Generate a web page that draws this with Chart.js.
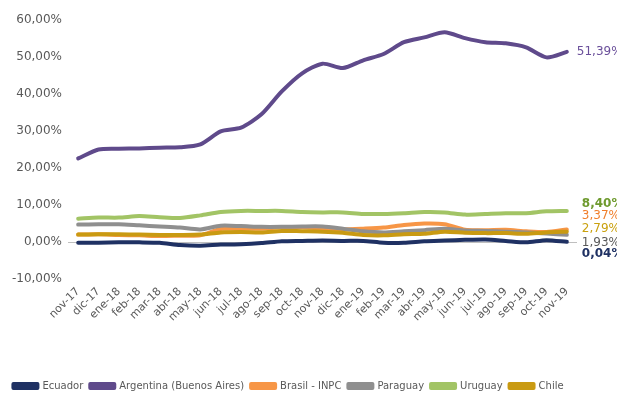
<!DOCTYPE html>
<html>
<head>
<meta charset="utf-8">
<script src="https://cdn.jsdelivr.net/npm/chart.js@4/dist/chart.umd.min.js"></script>
<style>
  html, body { margin: 0; padding: 0; background: #fff; }
  #wrap { width: 617px; height: 401px; }
</style>
</head>
<body>
<div id="wrap"><canvas id="myChart"></canvas></div>
<script>
var months = ['nov-17', 'dic-17', 'ene-18', 'feb-18', 'mar-18', 'abr-18', 'may-18', 'jun-18', 'jul-18', 'ago-18', 'sep-18', 'oct-18',
    'nov-18', 'dic-18', 'ene-19', 'feb-19', 'mar-19', 'abr-19', 'may-19', 'jun-19', 'jul-19', 'ago-19', 'sep-19', 'oct-19', 'nov-19'];

var ecuador   = [-0.2, -0.2, -0.1, -0.1, -0.2, -0.8, -1.0, -0.7, -0.6, -0.3, 0.2, 0.3, 0.4, 0.3, 0.3, -0.2, -0.2, 0.2, 0.4, 0.6, 0.7, 0.3, -0.1, 0.5, 0.04];
var argentina = [22.6, 25.0, 25.2, 25.3, 25.5, 25.6, 26.4, 29.9, 30.9, 34.5, 40.7, 45.6, 48.2, 47.0, 49.1, 50.8, 54.0, 55.3, 56.7, 55.1, 54.0, 53.7, 52.6, 49.9, 51.39];
var brasil    = [2.0, 2.1, 1.9, 1.8, 1.6, 1.7, 1.8, 3.5, 3.6, 3.6, 4.0, 4.0, 3.6, 3.4, 3.6, 3.9, 4.6, 5.0, 4.8, 3.3, 3.2, 3.3, 2.9, 2.7, 3.37];
var paraguay  = [4.7, 4.8, 4.8, 4.5, 4.2, 3.9, 3.4, 4.4, 4.3, 4.1, 4.1, 4.2, 4.2, 3.6, 2.9, 2.6, 2.9, 3.2, 3.6, 3.1, 3.0, 2.8, 2.6, 2.3, 1.93];
var uruguay   = [6.3, 6.6, 6.6, 7.0, 6.7, 6.5, 7.2, 8.1, 8.4, 8.4, 8.4, 8.1, 8.0, 8.0, 7.6, 7.6, 7.8, 8.1, 8.0, 7.4, 7.6, 7.8, 7.8, 8.3, 8.40];
var chile     = [2.0, 2.1, 2.1, 2.0, 1.9, 1.9, 2.0, 2.6, 2.7, 2.6, 3.0, 2.9, 2.8, 2.5, 1.9, 1.8, 2.1, 2.2, 2.8, 2.5, 2.4, 2.4, 2.2, 2.6, 2.79];

var yMin = -10, yMax = 60, yStep = 10;

// where the end labels sit (in axis units), Excel had them nudged apart
var endLabelAt = { 0: -3.1, 1: null, 2: 7.1, 3: -0.2, 4: 10.4, 5: 3.6 };
var endLabelColor = ['#1f3163', '#6a4f9a', '#f07f2c', '#5a5a5a', '#6e9a2e', '#caa10e'];

function fmt(v) {
    return v.toFixed(2).replace('.', ',') + '%';
}

var endLabels = {
    id: 'endLabels',
    afterDatasetsDraw: function(chart) {
        var c = chart.ctx;
        var y = chart.scales.y;
        c.save();
        c.textBaseline = 'middle';
        c.textAlign = 'left';
        chart.data.datasets.forEach(function(ds, i) {
            var meta = chart.getDatasetMeta(i);
            var last = meta.data[meta.data.length - 1];
            var val = ds.data[ds.data.length - 1];
            var py = endLabelAt[i] === null ? last.y : y.getPixelForValue(endLabelAt[i]);
            c.font = (i === 0 || i === 4 ? 'bold ' : '') + '12px "DejaVu Sans"';
            c.fillStyle = endLabelColor[i];
            c.fillText(fmt(val), last.x + (i === 1 ? 10 : 15), py);
        });
        c.restore();
    }
};

var ctx = document.getElementById('myChart').getContext('2d');
var myChart = new Chart(ctx, {
    type: 'line',
    data: {
        labels: months,
        datasets: [
            { label: 'Ecuador', data: ecuador, borderColor: '#1f3163', backgroundColor: '#1f3163', order: 6 },
            { label: 'Argentina (Buenos Aires)', data: argentina, borderColor: '#5f4a8b', backgroundColor: '#5f4a8b', order: 5 },
            { label: 'Brasil - INPC', data: brasil, borderColor: '#f79646', backgroundColor: '#f79646', order: 4 },
            { label: 'Paraguay', data: paraguay, borderColor: '#8f8f8f', backgroundColor: '#8f8f8f', order: 3 },
            { label: 'Uruguay', data: uruguay, borderColor: '#a2c465', backgroundColor: '#a2c465', order: 2 },
            { label: 'Chile', data: chile, borderColor: '#c99a12', backgroundColor: '#c99a12', order: 1 }
        ]
    },
    options: {
        responsive: true,
        maintainAspectRatio: false,
        animation: false,
        layout: { padding: { top: 20, right: 40, left: 0, bottom: 0 } },
        elements: {
            line: { tension: 0.25, borderWidth: 4, borderCapStyle: 'round', borderJoinStyle: 'round' },
            point: { radius: 0 }
        },
        plugins: {
            tooltip: { enabled: false },
            legend: {
                position: 'bottom',
                labels: {
                    boxWidth: 24,
                    boxHeight: 4,
                    padding: 7,
                    color: '#595959',
                    font: { family: '"DejaVu Sans"', size: 10 },
                    sort: function(a, b) { return a.datasetIndex - b.datasetIndex; }
                }
            }
        },
        scales: {
            x: {
                offset: true,
                grid: { display: false, drawTicks: false },
                border: { display: false },
                ticks: {
                    autoSkip: false,
                    maxRotation: 45,
                    minRotation: 45,
                    padding: 6,
                    color: '#595959',
                    font: { family: '"DejaVu Sans"', size: 11 }
                },
                afterFit: function(s) { s.height = 95; }
            },
            y: {
                min: yMin,
                max: yMax,
                ticks: {
                    stepSize: yStep,
                    padding: 6,
                    color: '#595959',
                    font: { family: '"DejaVu Sans"', size: 12 },
                    callback: function(v) { return fmt(v); }
                },
                grid: {
                    drawTicks: false,
                    color: function(c) { return c.tick && c.tick.value === 0 ? '#bfbfbf' : 'transparent'; }
                },
                border: { display: false },
                afterFit: function(s) { s.width = 68; }
            }
        }
    },
    plugins: [endLabels]
});
</script>
</body>
</html>
